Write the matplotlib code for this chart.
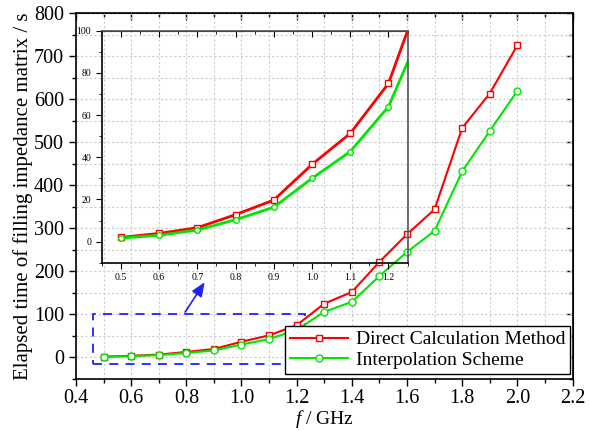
import matplotlib
matplotlib.use("Agg")
import matplotlib.pyplot as plt
from matplotlib.patches import Rectangle, FancyArrowPatch
from matplotlib.ticker import MultipleLocator

plt.rcParams['font.family'] = ['Liberation Serif', 'DejaVu Serif']
plt.rcParams['mathtext.fontset'] = 'custom'
plt.rcParams['mathtext.it'] = 'Liberation Serif:italic'
plt.rcParams['mathtext.rm'] = 'Liberation Serif'

freq = [0.5, 0.6, 0.7, 0.8, 0.9, 1.0, 1.1, 1.2, 1.3, 1.4, 1.5, 1.6, 1.7, 1.8, 1.9, 2.0]
direct = [2.0, 3.9, 6.6, 12.8, 19.7, 36.6, 51.3, 75.0, 125.0, 152.0, 222.0, 286.0, 344.0, 533.0, 613.0, 725.0]
interp = [1.7, 3.0, 5.5, 10.4, 16.3, 30.0, 42.7, 64.0, 106.0, 129.0, 189.0, 245.0, 294.0, 432.0, 526.0, 619.0]
labels = ['Direct Calculation Method', 'Interpolation Scheme']

RED = '#ff0000'
GREEN = '#00e600'

fig = plt.figure(figsize=(5.89, 4.30), dpi=100)
ax = fig.add_axes([0.129, 0.1186, 0.972 - 0.129, 0.9698 - 0.1186])

ax.plot(freq, direct, color=RED, lw=1.5, marker='s', ms=5, mfc='white', mec=RED, mew=1.0, label=labels[0], zorder=4)
ax.plot(freq, interp, color=GREEN, lw=1.5, marker='o', ms=5, mfc='white', mec=GREEN, mew=1.0, label=labels[1], zorder=4)

ax.set_xlim(0.4, 2.2)
ax.set_ylim(-50, 800)
ax.xaxis.set_major_locator(MultipleLocator(0.2))
ax.xaxis.set_minor_locator(MultipleLocator(0.1))
ax.yaxis.set_major_locator(MultipleLocator(100))
ax.yaxis.set_minor_locator(MultipleLocator(50))
ax.grid(True, which='both', color='#cccccc', ls=(0, (2, 2)), lw=0.8)
ax.set_axisbelow(True)
ax.tick_params(which='both', direction='out', top=False, right=False, labelsize=14.5)
ax.tick_params(axis='x', which='major', pad=2)
ax.tick_params(which='major', length=5, width=1)
ax.tick_params(which='minor', length=3, width=1)
sx = ax.secondary_xaxis('top')
sx.xaxis.set_major_locator(MultipleLocator(0.2))
sx.xaxis.set_minor_locator(MultipleLocator(0.1))
sx.tick_params(which='both', direction='in', labeltop=False)
sx.tick_params(which='major', length=5, width=1)
sx.tick_params(which='minor', length=3, width=1)
sy = ax.secondary_yaxis('right')
sy.yaxis.set_major_locator(MultipleLocator(100))
sy.yaxis.set_minor_locator(MultipleLocator(50))
sy.tick_params(which='both', direction='in', labelright=False)
sy.tick_params(which='major', length=5, width=1)
sy.tick_params(which='minor', length=3, width=1)
for s in ax.spines.values():
    s.set_linewidth(1.2)

ax.set_xlabel('$f$ / GHz', fontsize=14, labelpad=0)
ax.set_ylabel('Elapsed time of filling impedance matrix / s', fontsize=15, labelpad=1)

ax.add_patch(Rectangle((0.46, -14), 0.77, 114, fill=False, ec='#2020ff', lw=1.3, ls=(0, (5, 4)), zorder=3))
ax.add_patch(FancyArrowPatch((0.79, 100), (0.872, 180), arrowstyle='-|>,head_width=0.25,head_length=0.6',
                             mutation_scale=14, color='#2020ff', lw=1.2, zorder=5))

leg = ax.legend(loc='lower right', bbox_to_anchor=(0.995, 0.014), fontsize=14, frameon=True, fancybox=False,
                edgecolor='black', framealpha=1, handlelength=3.0, borderpad=0.25, labelspacing=0.15,
                handletextpad=0.4, borderaxespad=0)
leg.get_frame().set_linewidth(1.0)

# inset
ins = fig.add_axes([0.1727, 0.389, 0.692 - 0.1727, 0.9286 - 0.389])
ins.patch.set_alpha(0)
ins.plot(freq, direct, color=RED, lw=2, marker='s', ms=4, mfc='white', mec=RED, mew=1.0)
ins.plot(freq, interp, color=GREEN, lw=2, marker='o', ms=4, mfc='white', mec=GREEN, mew=1.0)
ins.set_xlim(0.45, 1.25)
ins.set_ylim(-10, 100)
ins.xaxis.set_major_locator(MultipleLocator(0.1))
ins.xaxis.set_minor_locator(MultipleLocator(0.05))
ins.yaxis.set_major_locator(MultipleLocator(20))
ins.yaxis.set_minor_locator(MultipleLocator(10))
ins.tick_params(which='both', direction='out', labelsize=7, top=False, right=False)
ins.tick_params(which='major', length=4)
ins.tick_params(which='minor', length=2)
isx = ins.secondary_xaxis('top')
isx.xaxis.set_major_locator(MultipleLocator(0.1))
isx.xaxis.set_minor_locator(MultipleLocator(0.05))
isx.tick_params(which='both', direction='in', labeltop=False)
isx.tick_params(which='major', length=4)
isx.tick_params(which='minor', length=2)
ins.xaxis.set_major_formatter(matplotlib.ticker.FormatStrFormatter('%.1f'))
for s in ins.spines.values():
    s.set_linewidth(1.2)
ins.spines['right'].set_color('#555555')
ins.spines['top'].set_color('#555555')

fig.savefig('out.png', dpi=100)
